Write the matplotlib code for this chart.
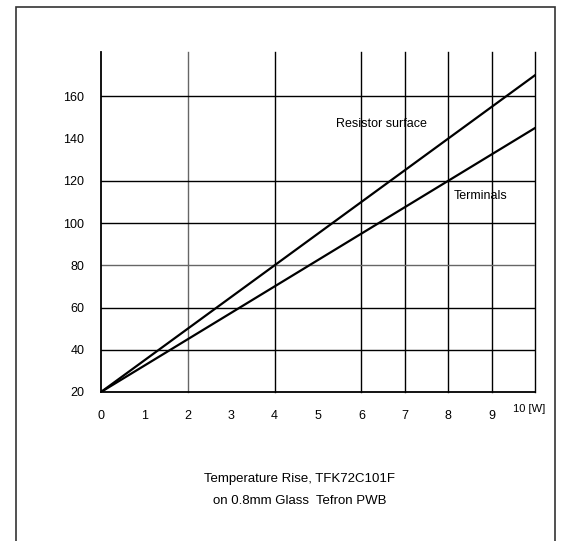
import numpy as np
import matplotlib.pyplot as plt
from matplotlib.patches import Rectangle

plt.rcParams['font.family'] = ['Liberation Sans', 'DejaVu Sans']

# data
power_w = [0, 10]
surface_temp = [20, 170]
terminal_temp = [20, 145]

x_ticks = [0, 1, 2, 3, 4, 5, 6, 7, 8, 9]
y_ticks = [20, 40, 60, 80, 100, 120, 140, 160]
x_grid = [2, 4, 6, 7, 8, 9, 10]
y_grid = [40, 60, 80, 100, 120, 160]
light_x = [2]
light_y = [80]

fig = plt.figure(figsize=(5.66, 5.41), dpi=100)
fig.patches.append(Rectangle((16 / 566, -0.05), (555 - 16) / 566, 1.05 - 7 / 541,
                             transform=fig.transFigure, fill=False,
                             edgecolor='#333333', linewidth=1.2))

ax = fig.add_axes([101 / 566, 1 - 392 / 541, (535 - 101) / 566, (392 - 52) / 541])
ax.set_xlim(0, 10)
ax.set_ylim(20, 181)

for gx in x_grid:
    c = '#666666' if gx in light_x else 'black'
    ax.axvline(gx, color=c, lw=1.0, zorder=1, clip_on=False)
for gy in y_grid:
    c = '#666666' if gy in light_y else 'black'
    ax.axhline(gy, color=c, lw=1.0, zorder=1)

ax.plot(power_w, surface_temp, color='black', lw=1.6, zorder=3)
ax.plot(power_w, terminal_temp, color='black', lw=1.6, zorder=3)

for s in ['top', 'right']:
    ax.spines[s].set_visible(False)
for s in ['left', 'bottom']:
    ax.spines[s].set_linewidth(1.3)

ax.set_xticks(x_ticks)
ax.set_yticks(y_ticks)
ax.tick_params(length=0, labelsize=9)
ax.tick_params(axis='x', pad=13)
ax.tick_params(axis='y', pad=12)
ax.annotate('10 [W]', xy=(10, 20), xytext=(-4, -9), textcoords='offset points',
            ha='center', va='top', fontsize=8)

ax.text(5.42, 147, 'Resistor surface', fontsize=9, ha='left', va='center')
ax.text(8.12, 113, 'Terminals', fontsize=9, ha='left', va='center')

fig.text(300 / 566, 1 - 479 / 541, 'Temperature Rise, TFK72C101F',
         ha='center', va='center', fontsize=9.5)
fig.text(300 / 566, 1 - 501 / 541, 'on 0.8mm Glass  Tefron PWB',
         ha='center', va='center', fontsize=9.5)

fig.savefig('out.png', dpi=100)
